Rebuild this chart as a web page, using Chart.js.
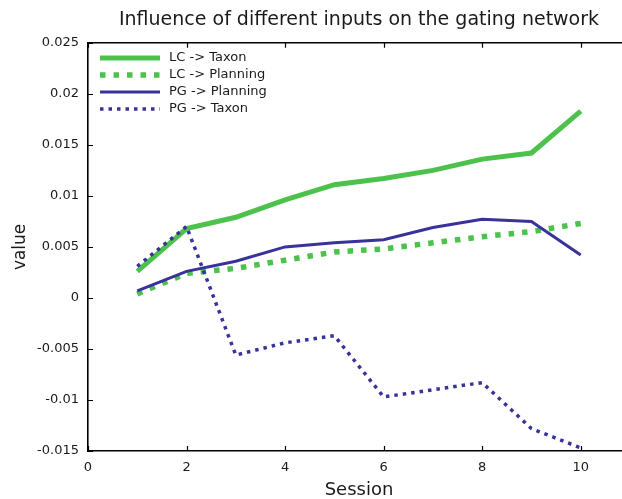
<!DOCTYPE html>
<html>
<head>
<meta charset="utf-8">
<script src="https://cdn.jsdelivr.net/npm/chart.js@4"></script>
<style>
html,body{margin:0;padding:0;background:#fff;overflow:hidden;}
#wrap{position:relative;width:634px;height:499px;}
</style>
</head>
<body>
<div id="wrap"><canvas id="c"></canvas></div>
<script>
const sessions = [1,2,3,4,5,6,7,8,9,10];
const lcTaxon    = [0.0026,0.0068,0.0079,0.0096,0.0111,0.0117,0.0125,0.0136,0.0142,0.0183];
const lcPlanning = [0.0004,0.0024,0.0029,0.0037,0.0045,0.0048,0.0054,0.0060,0.0065,0.0073];
const pgPlanning = [0.0007,0.0026,0.0036,0.0050,0.0054,0.0057,0.0069,0.0077,0.0075,0.0042];
const pgTaxon    = [0.0031,0.0070,-0.0056,-0.0044,-0.0037,-0.0097,-0.0090,-0.0083,-0.0128,-0.0147];
const seriesNames = ['LC -> Taxon','LC -> Planning','PG -> Planning','PG -> Taxon'];
const xTicks = [0,2,4,6,8,10];
const yTicks = [-0.015,-0.01,-0.005,0,0.005,0.01,0.015,0.02,0.025];
const yTickLabels = ['-0.015','-0.01','-0.005','0','0.005','0.01','0.015','0.02','0.025'];

const GREEN = '#4cc24c';
const BLUE = '#38329a';
const FONT = "'DejaVu Sans', sans-serif";

function pts(vals){ return vals.map((v,i)=>({x:sessions[i], y:v})); }

const inwardTicks = {
  id:'inwardTicks',
  afterDraw(chart){
    const ctx = chart.ctx, a = chart.chartArea;
    const xs = chart.scales.x, ys = chart.scales.y;
    ctx.save();
    ctx.strokeStyle = '#000';
    ctx.lineWidth = 1.2;
    const L = 5;
    ctx.beginPath();
    xs.ticks.forEach(t=>{
      const px = Math.round(xs.getPixelForValue(t.value))+0.5;
      ctx.moveTo(px,a.bottom); ctx.lineTo(px,a.bottom-L);
      ctx.moveTo(px,a.top); ctx.lineTo(px,a.top+L);
    });
    ys.ticks.forEach(t=>{
      const py = Math.round(ys.getPixelForValue(t.value))+0.5;
      ctx.moveTo(a.left,py); ctx.lineTo(a.left+L,py);
      ctx.moveTo(a.right,py); ctx.lineTo(a.right-L,py);
    });
    ctx.stroke();
    ctx.lineWidth = 1.6;
    ctx.beginPath();
    ctx.moveTo(a.left,a.top); ctx.lineTo(a.right,a.top);
    ctx.moveTo(a.right,a.top); ctx.lineTo(a.right,a.bottom);
    ctx.stroke();
    ctx.restore();
  }
};

const innerLegend = {
  id:'innerLegend',
  afterDatasetsDraw(chart){
    const ctx = chart.ctx;
    const rows = [58,75,92,109];
    ctx.save();
    chart.data.datasets.forEach((ds,i)=>{
      const y = rows[i];
      ctx.beginPath();
      ctx.strokeStyle = ds.borderColor;
      ctx.lineWidth = ds.borderWidth;
      ctx.lineCap = 'butt';
      ctx.setLineDash(ds.borderDash || []);
      ctx.moveTo(100,y); ctx.lineTo(160,y);
      ctx.stroke();
      ctx.setLineDash([]);
      ctx.fillStyle = '#1a1a1a';
      ctx.font = "13px " + FONT;
      ctx.textBaseline = 'middle';
      ctx.textAlign = 'left';
      ctx.fillText(seriesNames[i], 169, y);
    });
    ctx.restore();
  }
};

new Chart(document.getElementById('c'), {
  type:'line',
  data:{
    datasets:[
      {label:seriesNames[0], data:pts(lcTaxon), borderColor:GREEN, backgroundColor:GREEN, borderWidth:5, order:3},
      {label:seriesNames[1], data:pts(lcPlanning), borderColor:GREEN, backgroundColor:GREEN, borderWidth:5.5, borderDash:[5.5,8], order:2},
      {label:seriesNames[2], data:pts(pgPlanning), borderColor:BLUE, backgroundColor:BLUE, borderWidth:3, order:1},
      {label:seriesNames[3], data:pts(pgTaxon), borderColor:BLUE, backgroundColor:BLUE, borderWidth:3.5, borderDash:[3.5,5], order:0}
    ]
  },
  options:{
    responsive:true,
    maintainAspectRatio:false,
    animation:false,
    elements:{point:{radius:0,hoverRadius:0}, line:{tension:0, borderCapStyle:'butt', borderJoinStyle:'miter', fill:false}},
    layout:{padding:{left:0,right:4,top:0,bottom:0}},
    plugins:{
      legend:{display:false},
      tooltip:{enabled:false},
      title:{display:true, fullSize:false, text:'Influence of different inputs on the gating network', color:'#1a1a1a',
             font:{family:FONT, size:19, weight:'normal', lineHeight:1.2}, padding:{top:9,bottom:11}}
    },
    scales:{
      x:{type:'linear', min:0, max:11,
         afterBuildTicks(s){ s.ticks = xTicks.map(v=>({value:v})); },
         afterFit(s){ s.height = 48; },
         grid:{display:false, drawTicks:false},
         border:{display:true, color:'#000', width:1.6},
         ticks:{color:'#1a1a1a', font:{family:FONT, size:13}, padding:9, maxRotation:0,
                callback:(v)=>String(v)},
         title:{display:true, text:'Session', color:'#1a1a1a', font:{family:FONT, size:18, lineHeight:1}, padding:{top:0,bottom:0}}
      },
      y:{type:'linear', min:-0.015, max:0.025,
         afterBuildTicks(s){ s.ticks = yTicks.map(v=>({value:v})); },
         afterFit(s){ s.width = 88; },
         grid:{display:false, drawTicks:false},
         border:{display:true, color:'#000', width:1.6},
         ticks:{color:'#1a1a1a', font:{family:FONT, size:13}, padding:9,
                callback:(v)=>{ const i = yTicks.findIndex(t=>Math.abs(t-v)<1e-9); return i>=0 ? yTickLabels[i] : ''; }},
         title:{display:true, text:'value', color:'#1a1a1a', font:{family:FONT, size:17}, padding:{top:10,bottom:0}}
      }
    }
  },
  plugins:[inwardTicks, innerLegend]
});
</script>
</body>
</html>
